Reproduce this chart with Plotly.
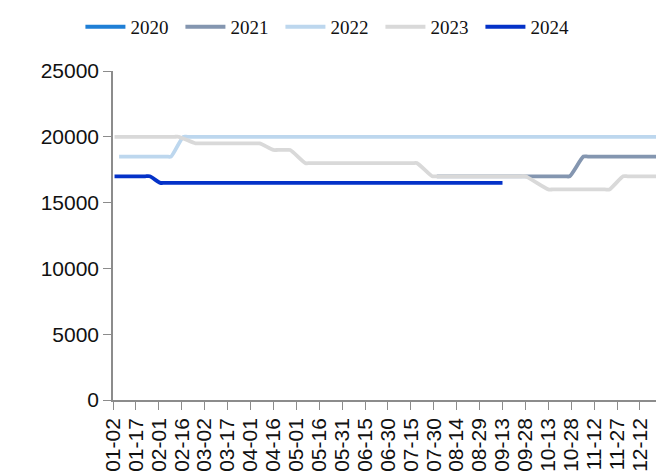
import pandas as pd
import plotly.graph_objects as go

# Daily category axis (MM-DD), labelled every 15 days
days = pd.date_range("2024-01-02", "2024-12-31", freq="D").strftime("%m-%d").tolist()
tick_labels = days[::15]

# Price series: dates where the level changes and the level held
x2020 = ["01-02"]
y2020 = [None]

x2021 = ["08-01", "09-28", "10-24", "10-27", "11-05", "11-08", "12-31"]
y2021 = [17000, 17000, 17000, 17000, 18500, 18500, 18500]

x2022 = ["01-06", "02-06", "02-09", "02-17", "02-20", "12-31"]
y2022 = [18500, 18500, 18500, 20000, 20000, 20000]

x2023 = ["01-03", "02-11", "02-14", "02-25", "02-28", "04-04", "04-07",
         "04-16", "04-19", "04-24", "04-27", "05-07", "05-10",
         "07-16", "07-19", "07-29", "08-01", "09-25", "09-28",
         "10-13", "10-16", "11-19", "11-22", "12-01", "12-04", "12-31"]
y2023 = [20000, 20000, 20000, 19500, 19500, 19500, 19500,
         19000, 19000, 19000, 19000, 18000, 18000,
         18000, 18000, 17000, 17000, 17000, 17000,
         16000, 16000, 16000, 16000, 17000, 17000, 17000]

x2024 = ["01-03", "01-23", "01-26", "02-02", "02-05", "09-13"]
y2024 = [17000, 17000, 17000, 16500, 16500, 16500]

series = [
    ("2020", x2020, y2020, "#1f7fd6"),
    ("2021", x2021, y2021, "#8496b0"),
    ("2022", x2022, y2022, "#bdd7ee"),
    ("2023", x2023, y2023, "#d9d9d9"),
    ("2024", x2024, y2024, "#0432c8"),
]

fig = go.Figure()
for name, xs, ys, color in series:
    fig.add_trace(go.Scatter(
        x=xs, y=ys, name=name, mode="lines",
        line=dict(color=color, width=3.8, shape="spline", smoothing=0.6),
    ))

axis_color = "#8c8c8c"
fig.update_layout(
    width=656, height=472,
    margin=dict(l=113, r=0, t=71, b=72),
    paper_bgcolor="white", plot_bgcolor="white",
    font=dict(family="Liberation Sans, Arial", size=21, color="#111111"),
    showlegend=True,
    legend=dict(
        orientation="h", x=-0.06, xanchor="left", y=1.134, yanchor="middle",
        font=dict(family="Liberation Serif, Times New Roman", size=19, color="#111111"),
        entrywidth=45, entrywidthmode="pixels",
        itemwidth=40, tracegroupgap=0, bgcolor="rgba(0,0,0,0)",
    ),
    xaxis=dict(
        type="category", categoryorder="array", categoryarray=days,
        range=[0, 355.5],
        tickmode="array", tickvals=tick_labels, ticktext=tick_labels,
        tickangle=-90, ticks="outside", ticklen=8, tickcolor=axis_color,
        showline=True, linecolor=axis_color, linewidth=1.5,
        showgrid=False, zeroline=False,
        tickfont=dict(size=21),
    ),
    yaxis=dict(
        range=[0, 25000], tickmode="linear", tick0=0, dtick=5000,
        tickformat="d",
        ticks="outside", ticklen=8, tickcolor=axis_color,
        showline=True, linecolor=axis_color, linewidth=1.5,
        showgrid=False, zeroline=False,
        tickfont=dict(size=21),
    ),
)

fig.write_html("out.html")
